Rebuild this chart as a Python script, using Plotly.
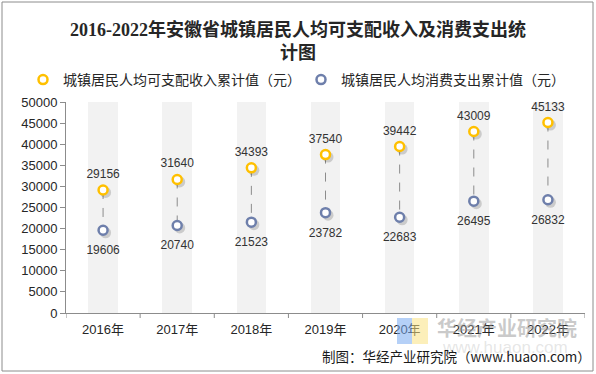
import plotly.graph_objects as go

years = ["2016年", "2017年", "2018年", "2019年", "2020年", "2021年", "2022年"]
income = [29156, 31640, 34393, 37540, 39442, 43009, 45133]
consumption = [19606, 20740, 21523, 23782, 22683, 26495, 26832]
band_top = [50000] * len(years)

title_text = "2016-2022年安徽省城镇居民人均可支配收入及消费支出统<br>计图"
income_name = "城镇居民人均可支配收入累计值（元）"
cons_name = "城镇居民人均消费支出累计值（元）"
source_text = "制图：华经产业研究院（www.huaon.com）"

YELLOW = "#FFC000"
BLUE = "#6E7FAB"
FONT = "Liberation Sans, Arial, Noto Sans CJK SC, sans-serif"

W, H = 596, 374
ML, MR, MT, MB = 66, 11, 102, 61
PW, PH = W - ML - MR, H - MT - MB
K = 50000 / PH  # data units per pixel
idx = list(range(len(years)))

fig = go.Figure()

# gray background bands
fig.add_trace(go.Bar(x=idx, y=band_top, width=0.4, marker_color="#F2F2F2",
                     marker_line_width=0, showlegend=False, hoverinfo="skip"))

# dashed connectors
lx, ly = [], []
for i, a, b in zip(idx, income, consumption):
    lx += [i, i, None]
    ly += [a, b, None]
fig.add_trace(go.Scatter(x=lx, y=ly, mode="lines", line=dict(color="#8C8C8C", width=1, dash="dash"),
                         showlegend=False, hoverinfo="skip"))

# shadows (shifted axes)
for vals in (income, consumption):
    fig.add_trace(go.Scatter(x=idx, y=vals, mode="markers", xaxis="x2", yaxis="y2",
                             marker=dict(size=11, color="rgba(0,0,0,0.16)", line=dict(width=0)),
                             showlegend=False, hoverinfo="skip"))

fig.add_trace(go.Scatter(x=idx, y=income, mode="markers", name=income_name,
                         xaxis="x3", yaxis="y3",
                         marker=dict(size=9, color="white", line=dict(color=YELLOW, width=2.5))))
fig.add_trace(go.Scatter(x=idx, y=consumption, mode="markers", name=cons_name,
                         xaxis="x3", yaxis="y3",
                         marker=dict(size=9, color="white", line=dict(color=BLUE, width=2.5))))

# value labels (on slightly shifted axes to match label offsets)
fig.add_trace(go.Scatter(x=idx, y=income, mode="text", xaxis="x3", yaxis="y4",
                         text=[str(v) for v in income], textposition="top center",
                         textfont=dict(size=12, color="#333333", family=FONT),
                         showlegend=False, hoverinfo="skip"))
fig.add_trace(go.Scatter(x=idx, y=consumption, mode="text", xaxis="x3", yaxis="y5",
                         text=[str(v) for v in consumption], textposition="bottom center",
                         textfont=dict(size=12, color="#333333", family=FONT),
                         showlegend=False, hoverinfo="skip"))


def px_x(x):
    return (x - ML) / PW


def px_y(y):
    return (H - MB - y) / PH


shapes = [
    dict(type="rect", xref="paper", yref="paper", x0=px_x(2), x1=px_x(593), y0=px_y(371), y1=px_y(2),
         line=dict(color="#8C8C8C", width=1), fillcolor="rgba(0,0,0,0)", layer="above"),
    dict(type="rect", xref="paper", yref="paper", x0=px_x(397), x1=px_x(412), y0=px_y(344), y1=px_y(318),
         line=dict(width=0), fillcolor="rgba(120,170,240,0.55)", layer="above"),
    dict(type="rect", xref="paper", yref="paper", x0=px_x(412), x1=px_x(428), y0=px_y(344), y1=px_y(318),
         line=dict(width=0), fillcolor="rgba(250,225,130,0.55)", layer="above"),
]

annotations = [
    dict(text="<b>华经产业研究院</b>", xref="paper", yref="paper", x=px_x(507), y=px_y(327),
         showarrow=False, font=dict(size=20, color="rgba(150,150,150,0.5)", family="Noto Sans CJK SC"),
         xanchor="center", yanchor="middle"),
    dict(text="www.huaon.com", xref="paper", yref="paper", x=px_x(505), y=px_y(347),
         showarrow=False, font=dict(size=17, color="rgba(170,170,170,0.3)", family=FONT),
         xanchor="center", yanchor="middle"),
    dict(text=source_text, xref="paper", yref="paper", x=px_x(593), y=px_y(356),
         showarrow=False, font=dict(size=13.5, color="#1A1A1A", family="Noto Sans CJK SC, Liberation Sans"),
         xanchor="right", yanchor="middle"),
]

xrange = [-0.5, 6.5]
fig.update_layout(
    width=W, height=H,
    margin=dict(l=ML, r=MR, t=MT, b=MB, autoexpand=False),
    paper_bgcolor="white", plot_bgcolor="white",
    title=dict(text=title_text, x=0.5, xref="container", xanchor="center",
               y=1 - 36 / H, yref="container", yanchor="middle", automargin=False,
               font=dict(size=18, color="#262626", family="Liberation Serif, Noto Sans CJK SC", weight="bold")),
    legend=dict(orientation="h", x=px_x(23), xanchor="left", xref="paper",
                y=px_y(80), yref="paper", yanchor="middle",
                font=dict(size=14, color="#262626", family="Noto Sans CJK SC"),
                itemwidth=30, entrywidth=233, tracegroupgap=0, bgcolor="rgba(0,0,0,0)"),
    xaxis=dict(range=xrange, showgrid=False, showline=True, zeroline=False,
               tickvals=idx, ticktext=years, ticklabelstandoff=4,
               linecolor="#8C8C8C", linewidth=1, ticks="",
               tickfont=dict(size=13, color="#262626", family=FONT), fixedrange=True),
    yaxis=dict(range=[0, 50000], dtick=5000, tickformat="d", showgrid=False, showline=True,
               linecolor="#8C8C8C", linewidth=1, ticks="outside", ticklen=5, tickcolor="#8C8C8C",
               zeroline=False, tickfont=dict(size=13, color="#262626", family=FONT), fixedrange=True),
    xaxis2=dict(overlaying="x", range=[xrange[0] - 2.5 / 74, xrange[1] - 2.5 / 74], visible=False),
    yaxis2=dict(overlaying="y", range=[2.5 * K, 50000 + 2.5 * K], visible=False),
    xaxis3=dict(overlaying="x", range=xrange, visible=False),
    yaxis3=dict(overlaying="y", range=[0, 50000], visible=False),
    yaxis4=dict(overlaying="y", range=[-9 * K, 50000 - 9 * K], visible=False),
    yaxis5=dict(overlaying="y", range=[15 * K, 50000 + 15 * K], visible=False),
    shapes=shapes, annotations=annotations,
    bargap=0,
)

# category boundary ticks on the x axis
bx = [i - 0.5 for i in idx] + [idx[-1] + 0.5]
for b in bx:
    fig.add_shape(type="line", xref="x", yref="paper", x0=b, x1=b, y0=0, y1=-5 / PH,
                  line=dict(color="#8C8C8C", width=1))

fig.write_html("out.html", config={"displayModeBar": False},
               post_script="document.body.style.margin='0px';")
